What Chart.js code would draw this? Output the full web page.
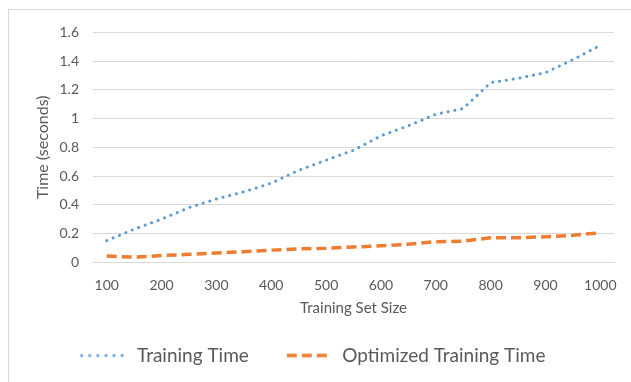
<!DOCTYPE html>
<html>
<head>
<meta charset="utf-8">
<script src="https://cdn.jsdelivr.net/npm/chart.js@4.4.0/dist/chart.umd.min.js"></script>
<style>
  html, body { margin: 0; padding: 0; background: #fff; overflow: hidden; }
  #box {
    position: absolute; left: 8px; top: 9px; width: 640px; height: 390px;
    border-left: 1px solid #d9d9d9; border-top: 1px solid #d9d9d9;
  }
  #wrap { position: absolute; left: 0; top: 0; width: 623px; height: 373px; }
</style>
</head>
<body>
<div id="box"><div id="wrap"><canvas id="timeChart"></canvas></div></div>
<script>
// training set sizes (categories)
var sizes = [100, 150, 200, 250, 300, 350, 400, 450, 500, 550,
             600, 650, 700, 750, 800, 850, 900, 950, 1000];
// seconds
var trainingTime = [0.15, 0.23, 0.30, 0.38, 0.44, 0.49, 0.55, 0.64, 0.71, 0.78,
                    0.88, 0.95, 1.03, 1.07, 1.25, 1.28, 1.32, 1.41, 1.51];
var optimizedTime = [0.043, 0.035, 0.046, 0.055, 0.064, 0.073, 0.084, 0.093, 0.097, 0.106,
                     0.114, 0.125, 0.143, 0.146, 0.170, 0.171, 0.177, 0.187, 0.205];
var xTickLabels = ['100', '200', '300', '400', '500', '600', '700', '800', '900', '1000'];

var grey = '#595959';
var fontName = 'Lato, "Open Sans", sans-serif';
var blue = '#5b9bd5', orange = '#ed7d31';

// little legend samples, since the point-style line ignores the dash
function sample(color, width, dash, cap) {
    var c = document.createElement('canvas');
    c.width = 48; c.height = 8;
    var ctx = c.getContext('2d');
    ctx.strokeStyle = color;
    ctx.lineWidth = width;
    ctx.lineCap = cap;
    ctx.setLineDash(dash);
    ctx.beginPath();
    ctx.moveTo(2, 4);
    ctx.lineTo(43, 4);
    ctx.stroke();
    return c;
}

new Chart(document.getElementById('timeChart'), {
    type: 'line',
    data: {
        labels: sizes,
        datasets: [
            {
                label: 'Training Time',
                data: trainingTime,
                borderColor: blue,
                backgroundColor: blue,
                borderWidth: 3,
                borderDash: [0.1, 6.8],
                borderCapStyle: 'round',
                pointRadius: 0,
                pointStyle: sample(blue, 3, [0.1, 8], 'round'),
                tension: 0
            },
            {
                label: 'Optimized Training Time',
                data: optimizedTime,
                borderColor: orange,
                backgroundColor: orange,
                borderWidth: 3.5,
                borderDash: [10, 5],
                pointRadius: 0,
                pointStyle: sample(orange, 3.5, [10, 5], 'butt'),
                tension: 0
            }
        ]
    },
    options: {
        responsive: true,
        maintainAspectRatio: false,
        animation: false,
        layout: { padding: { left: 0, right: 16, top: 13, bottom: 8 } },
        plugins: {
            tooltip: { enabled: false },
            legend: {
                position: 'bottom',
                labels: {
                    usePointStyle: true,
                    pointStyleWidth: 48,
                    padding: 36,
                    color: grey,
                    font: { family: fontName, size: 19 }
                }
            }
        },
        scales: {
            x: {
                offset: true,
                grid: { display: false, drawTicks: false },
                border: { color: '#d9d9d9' },
                ticks: {
                    autoSkip: false,
                    maxRotation: 0,
                    padding: 15,
                    color: grey,
                    font: { family: fontName, size: 14 },
                    callback: function (v, i) {
                        return i % 2 === 0 ? xTickLabels[i / 2] : '';
                    }
                },
                title: {
                    display: true,
                    text: 'Training Set Size',
                    color: grey,
                    font: { family: fontName, size: 15 },
                    padding: { top: -10, bottom: -7 }
                }
            },
            y: {
                min: 0,
                max: 1.6,
                afterFit: function (s) { s.width = 84; },
                grid: { color: '#d9d9d9', drawTicks: false },
                border: { display: false },
                ticks: {
                    stepSize: 0.2,
                    padding: 14,
                    color: grey,
                    font: { family: fontName, size: 14 },
                    callback: function (v) { return String(+v.toFixed(1)); }
                },
                title: {
                    display: true,
                    text: 'Time (seconds)',
                    color: grey,
                    font: { family: fontName, size: 16 },
                    padding: { top: 24, bottom: 0 }
                }
            }
        }
    }
});
</script>
</body>
</html>
